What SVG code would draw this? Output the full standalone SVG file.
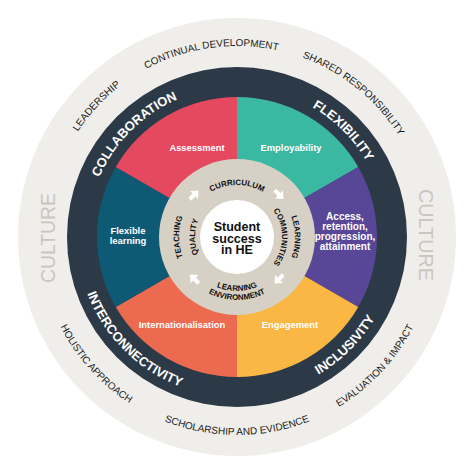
<svg xmlns="http://www.w3.org/2000/svg" width="474" height="474" viewBox="0 0 474 474">
<style>
.lbl{font-family:"Liberation Sans",Arial,sans-serif;font-weight:bold;fill:#fff;font-size:9.4px;text-anchor:middle}
.ring{font-family:"Liberation Sans",Arial,sans-serif;font-weight:bold;fill:#fff;font-size:13px}
.outer{font-family:"Liberation Sans",Arial,sans-serif;fill:#1a1a1a;font-size:10px}
.inner{font-family:"Liberation Sans",Arial,sans-serif;font-weight:bold;fill:#111;font-size:8px}
.culture{font-family:"Liberation Sans",Arial,sans-serif;fill:#c9c6c1;font-size:20px;text-anchor:middle}
.arrow{fill:#fff}
</style>
<defs>
<path id="pCollab" d="M101.05,300.39 A150,150 0 0 1 300.39,101.05"/>
<path id="pFlex" d="M173.61,101.05 A150,150 0 0 1 372.95,300.39"/>
<path id="pInter" d="M92,169.38 A160,160 0 0 0 304.62,382"/>
<path id="pIncl" d="M169.38,382 A160,160 0 0 0 382,169.38"/>
<path id="pLead" d="M66.82,323.71 A191,191 0 0 1 311.62,61.18"/>
<path id="pCont" d="M50.18,197.29 A191,191 0 0 1 405.64,147.33"/>
<path id="pShared" d="M138.63,73.27 A191,191 0 0 1 417.59,299.19"/>
<path id="pEval" d="M159.64,419.26 A198,198 0 0 0 413.42,147.11"/>
<path id="pSchol" d="M50.94,304.72 A198,198 0 0 0 423.06,304.72"/>
<path id="pHol" d="M62.19,144.04 A198,198 0 0 0 311.17,420.59"/>
<path id="pCurr" d="M188.14,219.22 A52,52 0 0 1 285.86,219.22"/>
<path id="pLC1" d="M256.84,182.5 A58,58 0 0 1 256.84,291.5"/>
<path id="pLC2" d="M252.39,194.71 A45,45 0 0 1 252.39,279.29"/>
<path id="pTQ1" d="M217.16,291.5 A58,58 0 0 1 217.16,182.5"/>
<path id="pTQ2" d="M221.61,279.29 A47,47 0 0 1 221.61,194.71"/>
<path id="pLE1" d="M186.26,255.47 A54,54 0 0 0 287.74,255.47"/>
<path id="pLE2" d="M177.80,258.55 A63,63 0 0 0 296.20,258.55"/>
<path id="arr" d="M-6,-2 L0,-2 L0,-5.5 L6.5,0 L0,5.5 L0,2 L-6,2 Z"/>
</defs>

<g id="background">
<circle cx="237" cy="237" r="219" fill="#f0eeea"/>
<circle cx="237" cy="237" r="170" fill="#2c3a47"/>
</g>

<g id="culture">
<text class="culture" transform="translate(54.5,238) rotate(-90)" textLength="90" lengthAdjust="spacingAndGlyphs">CULTURE</text>
<text class="culture" transform="translate(418.5,235) rotate(90)" textLength="92" lengthAdjust="spacingAndGlyphs">CULTURE</text>
</g>

<g id="outer-labels">
<text class="outer"><textPath href="#pLead" startOffset="50%" text-anchor="middle">LEADERSHIP</textPath></text>
<text class="outer"><textPath href="#pCont" startOffset="50%" text-anchor="middle">CONTINUAL DEVELOPMENT</textPath></text>
<text class="outer"><textPath href="#pShared" startOffset="50%" text-anchor="middle">SHARED RESPONSIBILITY</textPath></text>
<text class="outer"><textPath href="#pEval" startOffset="50%" text-anchor="middle">EVALUATION &amp; IMPACT</textPath></text>
<text class="outer"><textPath href="#pSchol" startOffset="50%" text-anchor="middle">SCHOLARSHIP AND EVIDENCE</textPath></text>
<text class="outer"><textPath href="#pHol" startOffset="50%" text-anchor="middle">HOLISTIC APPROACH</textPath></text>
</g>

<g id="ring-labels">
<text class="ring"><textPath href="#pCollab" startOffset="50%" text-anchor="middle">COLLABORATION</textPath></text>
<text class="ring"><textPath href="#pFlex" startOffset="50%" text-anchor="middle">FLEXIBILITY</textPath></text>
<text class="ring"><textPath href="#pInter" startOffset="50%" text-anchor="middle">INTERCONNECTIVITY</textPath></text>
<text class="ring"><textPath href="#pIncl" startOffset="50%" text-anchor="middle">INCLUSIVITY</textPath></text>
</g>

<g id="employability">
<path d="M237,237 L237,97 A140,140 0 0 1 358.24,167 Z" fill="#3bb8a2"/>
<text class="lbl" x="291" y="150.5">Employability</text>
</g>
<g id="access">
<path d="M237,237 L358.24,167 A140,140 0 0 1 358.24,307 Z" fill="#584697"/>
<text class="lbl" style="font-size:10px" x="345" y="219.5">Access,</text>
<text class="lbl" style="font-size:10px" x="345" y="229.5">retention,</text>
<text class="lbl" style="font-size:10px" x="345" y="239.5">progression,</text>
<text class="lbl" style="font-size:10px" x="345" y="249.5">attainment</text>
</g>
<g id="engagement">
<path d="M237,237 L358.24,307 A140,140 0 0 1 237,377 Z" fill="#fab743"/>
<text class="lbl" x="290" y="327.5">Engagement</text>
</g>
<g id="internationalisation">
<path d="M237,237 L237,377 A140,140 0 0 1 115.76,307 Z" fill="#ec6a50"/>
<text class="lbl" x="182" y="327.5">Internationalisation</text>
</g>
<g id="flexible-learning">
<path d="M237,237 L115.76,307 A140,140 0 0 1 115.76,167 Z" fill="#0e5a74"/>
<text class="lbl" x="128" y="233.5">Flexible</text>
<text class="lbl" x="128" y="244">learning</text>
</g>
<g id="assessment">
<path d="M237,237 L115.76,167 A140,140 0 0 1 237,97 Z" fill="#e5495f"/>
<text class="lbl" x="197" y="150.5">Assessment</text>
</g>

<g id="cycle">
<circle cx="237" cy="237" r="78" fill="#d6d0c5"/>
<text class="inner"><textPath href="#pCurr" startOffset="50%" text-anchor="middle">CURRICULUM</textPath></text>
<text class="inner"><textPath href="#pLC1" startOffset="50%" text-anchor="middle">LEARNING</textPath></text>
<text class="inner"><textPath href="#pLC2" startOffset="50%" text-anchor="middle">COMMUNITIES</textPath></text>
<text class="inner"><textPath href="#pLE1" startOffset="50%" text-anchor="middle">LEARNING</textPath></text>
<text class="inner"><textPath href="#pLE2" startOffset="50%" text-anchor="middle">ENVIRONMENT</textPath></text>
<text class="inner"><textPath href="#pTQ1" startOffset="50%" text-anchor="middle">TEACHING</textPath></text>
<text class="inner"><textPath href="#pTQ2" startOffset="50%" text-anchor="middle">QUALITY</textPath></text>
</g>

<g id="connectors">
<use href="#arr" class="arrow" transform="translate(194,195) rotate(-45)"/>
<use href="#arr" class="arrow" transform="translate(279,194.5) rotate(45)"/>
<use href="#arr" class="arrow" transform="translate(279,279) rotate(135)"/>
<use href="#arr" class="arrow" transform="translate(194.5,279) rotate(-135)"/>
</g>

<g id="student-success">
<circle cx="237" cy="237" r="37" fill="#fff"/>
<text class="lbl" style="fill:#111;font-size:12.5px" x="237" y="230.5">Student</text>
<text class="lbl" style="fill:#111;font-size:12.5px" x="237" y="242.5">success</text>
<text class="lbl" style="fill:#111;font-size:12.5px" x="237" y="254">in HE</text>
</g>
</svg>
